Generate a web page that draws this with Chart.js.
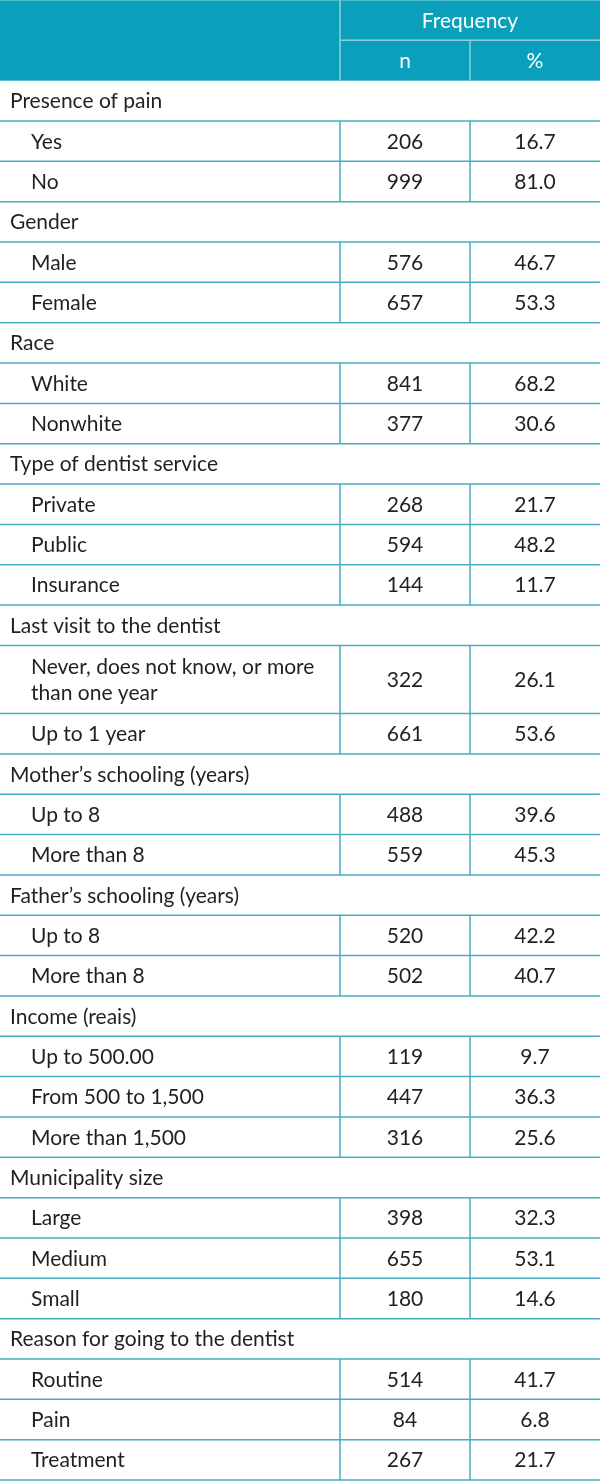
<!DOCTYPE html>
<html>
<head>
<meta charset="utf-8">
<script src="https://cdn.jsdelivr.net/npm/chart.js@4/dist/chart.umd.min.js"></script>
<style>
  html, body { margin: 0; padding: 0; background: #fff; }
  canvas { display: block; }
</style>
</head>
<body>
<canvas id="table" width="600" height="1481"></canvas>
<script>
// Table content
const headerTop = 'Frequency';
const headerCols = ['n', '%'];

const groups = [
    'Presence of pain',
    'Gender',
    'Race',
    'Type of dentist service',
    'Last visit to the dentist',
    'Mother\u2019s schooling (years)',
    'Father\u2019s schooling (years)',
    'Income (reais)',
    'Municipality size',
    'Reason for going to the dentist'
];

const items = [
    ['Yes', 'No'],
    ['Male', 'Female'],
    ['White', 'Nonwhite'],
    ['Private', 'Public', 'Insurance'],
    ['Never, does not know, or more\nthan one year', 'Up to 1 year'],
    ['Up to 8', 'More than 8'],
    ['Up to 8', 'More than 8'],
    ['Up to 500.00', 'From 500 to 1,500', 'More than 1,500'],
    ['Large', 'Medium', 'Small'],
    ['Routine', 'Pain', 'Treatment']
];

const counts = [
    [206, 999],
    [576, 657],
    [841, 377],
    [268, 594, 144],
    [322, 661],
    [488, 559],
    [520, 502],
    [119, 447, 316],
    [398, 655, 180],
    [514, 84, 267]
];

const percents = [
    [16.7, 81.0],
    [46.7, 53.3],
    [68.2, 30.6],
    [21.7, 48.2, 11.7],
    [26.1, 53.6],
    [39.6, 45.3],
    [42.2, 40.7],
    [9.7, 36.3, 25.6],
    [32.3, 53.1, 14.6],
    [41.7, 6.8, 21.7]
];

// Layout
const colEdges = [0, 340, 470, 600];   // x-scale units
const extraLineUnits = 0.69;           // extra height for each wrapped line
const fontFamily = 'Lato, "Open Sans", sans-serif';
const fontSize = 21;
const teal = '#0aa0bb';
const lineTeal = '#46adc0';
const textColor = '#231f20';

// Flatten rows, each with its start/end in row units
const rows = [];
let cursor = 2; // two header rows
groups.forEach((g, gi) => {
    rows.push({ type: 'group', label: g, y0: cursor, y1: cursor + 1 });
    cursor += 1;
    items[gi].forEach((label, ii) => {
        const lines = label.split('\n');
        const h = 1 + (lines.length - 1) * extraLineUnits;
        rows.push({
            type: 'item', lines: lines,
            n: counts[gi][ii], pct: percents[gi][ii].toFixed(1),
            y0: cursor, y1: cursor + h
        });
        cursor += h;
    });
});
const totalUnits = cursor;

const tablePlugin = {
    id: 'tableDraw',
    beforeDatasetsDraw(chart) {
        const ctx = chart.ctx;
        const x = chart.scales.x;
        const y = chart.scales.y;
        const px = v => x.getPixelForValue(v);
        const py = v => y.getPixelForValue(v);

        const hline = (yv, xa, xb, color, w) => {
            ctx.beginPath();
            ctx.strokeStyle = color;
            ctx.lineWidth = w;
            ctx.moveTo(px(xa), py(yv));
            ctx.lineTo(px(xb), py(yv));
            ctx.stroke();
        };
        const vline = (xv, ya, yb, color, w) => {
            ctx.beginPath();
            ctx.strokeStyle = color;
            ctx.lineWidth = w;
            ctx.moveTo(px(xv), py(ya));
            ctx.lineTo(px(xv), py(yb));
            ctx.stroke();
        };

        ctx.save();
        ctx.font = fontSize + 'px ' + fontFamily;
        ctx.textBaseline = 'alphabetic';
        const capOff = 7.5;

        // header block
        ctx.fillStyle = teal;
        ctx.fillRect(px(0), py(0), px(600) - px(0), py(2) - py(0));
        const hdrLine = '#8ccfdb';
        vline(colEdges[1], 0, 2, hdrLine, 1.5);
        hline(1, colEdges[1], colEdges[3], hdrLine, 1.5);
        vline(colEdges[2], 1, 2, hdrLine, 1.5);
        hline(0, 0, 600, hdrLine, 1);

        ctx.fillStyle = '#ffffff';
        ctx.textAlign = 'center';
        ctx.fillText(headerTop, px((colEdges[1] + colEdges[3]) / 2), py(0.5) + capOff);
        headerCols.forEach((h, i) => {
            ctx.fillText(h, px((colEdges[i + 1] + colEdges[i + 2]) / 2), py(1.5) + capOff);
        });

        // body rows
        const itemX = 31;
        rows.forEach(r => {
            const mid = (py(r.y0) + py(r.y1)) / 2;
            ctx.fillStyle = textColor;
            if (r.type === 'group') {
                ctx.textAlign = 'left';
                ctx.fillText(r.label, px(10), mid + capOff);
            } else {
                ctx.textAlign = 'left';
                const lh = 26;
                const start = mid - (r.lines.length - 1) * lh / 2;
                r.lines.forEach((ln, li) => {
                    ctx.fillText(ln, px(itemX), start + li * lh + capOff);
                });
                ctx.textAlign = 'center';
                ctx.fillText(String(r.n), px((colEdges[1] + colEdges[2]) / 2), mid + capOff);
                ctx.fillText(r.pct, px((colEdges[2] + colEdges[3]) / 2), mid + capOff);
                vline(colEdges[1], r.y0, r.y1, lineTeal, 1.5);
                vline(colEdges[2], r.y0, r.y1, lineTeal, 1.5);
            }
            hline(r.y1, 0, 600, lineTeal, 1.5);
        });
        ctx.restore();
    }
};

new Chart(document.getElementById('table'), {
    type: 'scatter',
    data: { datasets: [] },
    options: {
        responsive: false,
        animation: false,
        events: [],
        layout: { padding: { top: 0, left: 0, right: 0, bottom: 1 } },
        plugins: {
            legend: { display: false },
            tooltip: { enabled: false }
        },
        scales: {
            x: { type: 'linear', min: 0, max: 600, display: false },
            y: { type: 'linear', min: 0, max: totalUnits, reverse: true, display: false }
        }
    },
    plugins: [tablePlugin]
});
</script>
</body>
</html>
